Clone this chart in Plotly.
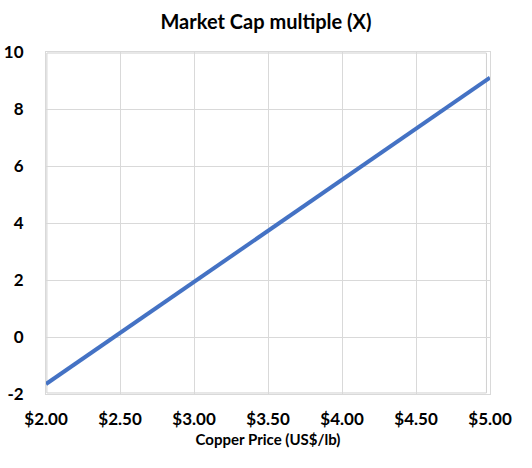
import plotly.graph_objects as go

copper_price = [2.0, 2.5, 3.0, 3.5, 4.0, 4.5, 5.0]
market_cap_multiple = [-1.65, 0.14, 1.93, 3.73, 5.52, 7.31, 9.1]
x_tickvals = [2.0, 2.5, 3.0, 3.5, 4.0, 4.5, 5.0]
x_ticktext = ["<b>$2.00</b>", "<b>$2.50</b>", "<b>$3.00</b>", "<b>$3.50</b>", "<b>$4.00</b>", "<b>$4.50</b>", "<b>$5.00</b>"]
y_tickvals = [-2, 0, 2, 4, 6, 8, 10]
y_ticktext = ["<b>-2</b>", "<b>0</b>", "<b>2</b>", "<b>4</b>", "<b>6</b>", "<b>8</b>", "<b>10</b>"]

FONT = "Lato, 'Open Sans', sans-serif"

fig = go.Figure()
fig.add_trace(go.Scatter(x=copper_price, y=market_cap_multiple, mode="lines",
                         line=dict(color="#4472C4", width=4), showlegend=False))

fig.update_layout(
    width=532, height=468,
    margin=dict(l=46, r=42, t=52, b=74),
    paper_bgcolor="white", plot_bgcolor="white",
    title=dict(text="<b>Market Cap multiple (X)</b>", x=0.5, xanchor="center",
               y=1 - 22 / 468, yanchor="middle",
               font=dict(family=FONT, size=20, color="black")),
    font=dict(family=FONT, color="black"),
    xaxis=dict(range=[2, 5], tickvals=x_tickvals, ticktext=x_ticktext, automargin=False,
               showgrid=True, gridcolor="#d9d9d9", gridwidth=1, zeroline=False,
               showline=True, linecolor="#d9d9d9", mirror=True, ticks="", ticklabelstandoff=10,
               tickfont=dict(family=FONT, size=17, color="black"),
               title=dict(text="<b>Copper Price (US$/lb)</b>", standoff=6,
                          font=dict(family=FONT, size=15, color="black"))),
    yaxis=dict(range=[-2, 10], tickvals=y_tickvals, ticktext=y_ticktext, automargin=False,
               showgrid=True, gridcolor="#d9d9d9", gridwidth=1, zeroline=False,
               showline=True, linecolor="#d9d9d9", mirror=True, ticks="", ticklabelstandoff=18,
               tickfont=dict(family=FONT, size=17, color="black")),
    shapes=[dict(type="rect", xref="paper", yref="paper", x0=0.002, x1=0.992, y0=0.003, y1=0.997,
                 line=dict(color="#d0d0d0", width=1), layer="below")],
)

fig.write_html("out.html", config={"displayModeBar": False},
               post_script="document.body.style.margin='0';document.body.style.overflow='hidden';")
